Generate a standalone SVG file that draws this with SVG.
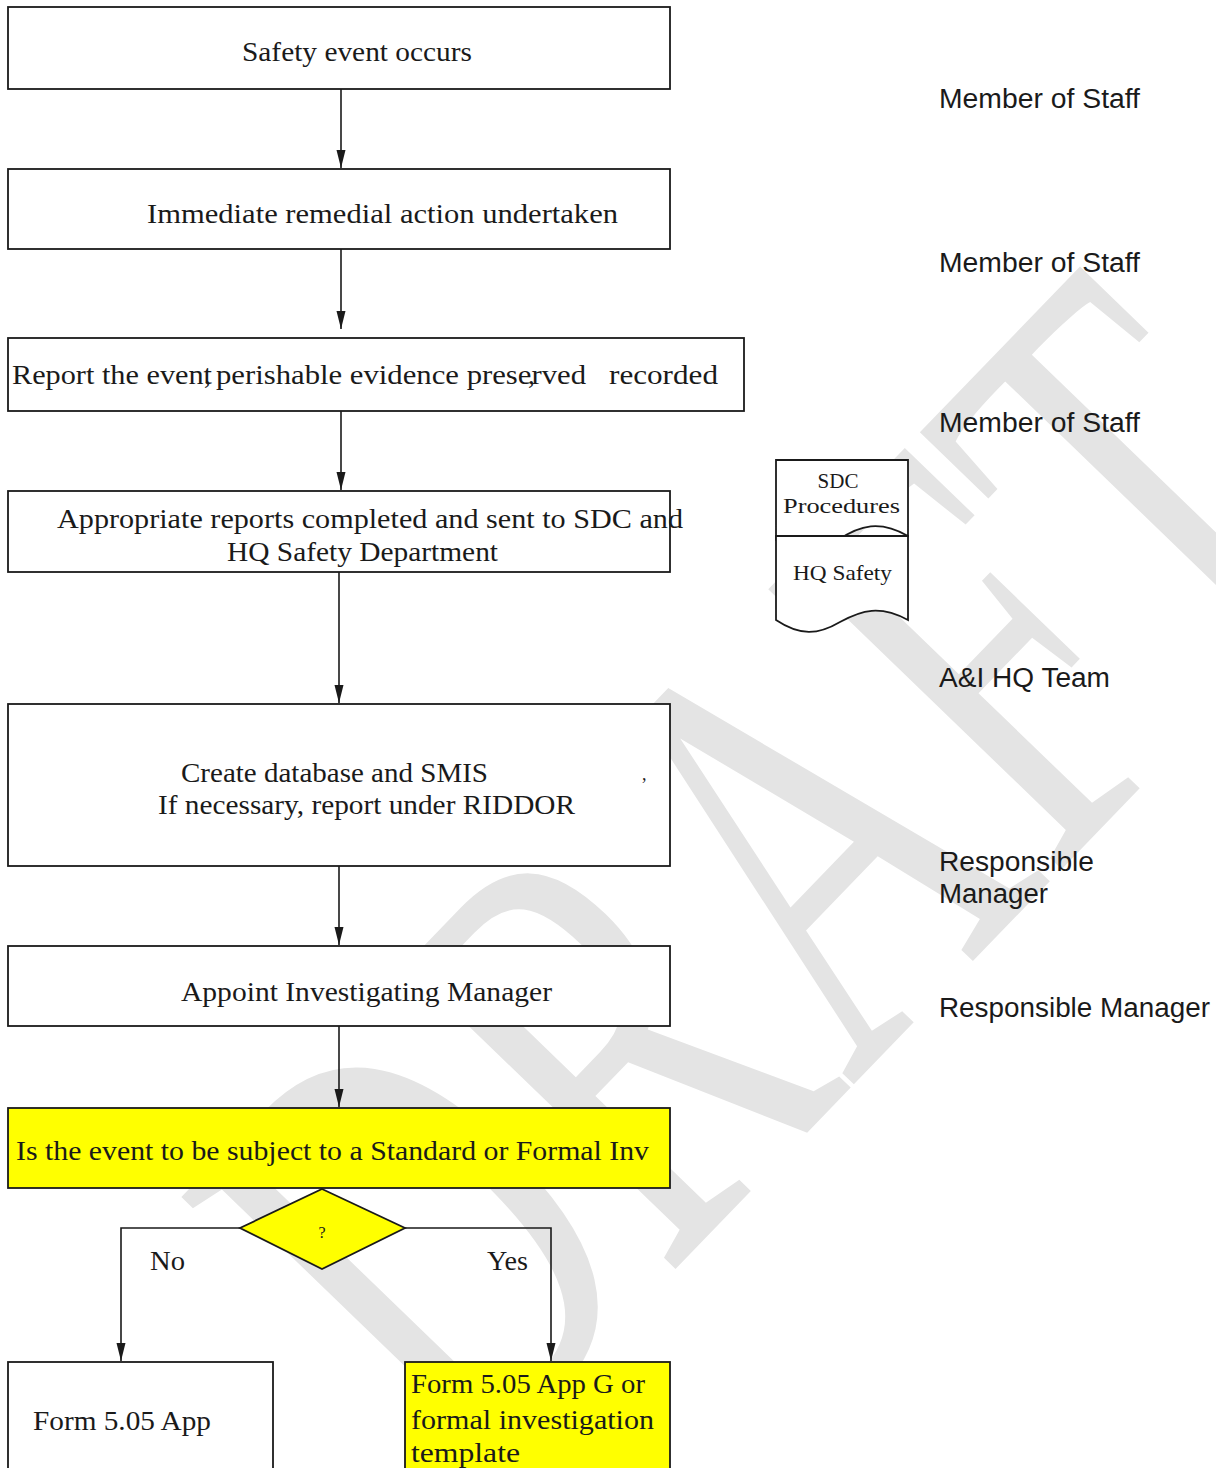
<svg xmlns="http://www.w3.org/2000/svg" width="1216" height="1468" viewBox="0 0 1216 1468">
<defs>
<style>
.box{fill:#fff;stroke:#1a1a1a;stroke-width:1.8}
.yel{fill:#ffff00;stroke:#1a1a1a;stroke-width:1.8}
.t{font-family:"Liberation Serif",serif;font-size:27px;fill:#1a1a1a}
.s{font-family:"Liberation Serif",serif;font-size:21px;fill:#1a1a1a}
.lab{font-family:"Liberation Sans",Arial,sans-serif;font-size:27px;fill:#1a1a1a}
.c{fill:none;stroke:#1a1a1a;stroke-width:1.6}
.wm{font-family:"Liberation Serif",serif;font-size:387px;fill:#e4e4e4}
</style>
<marker id="ah" viewBox="0 0 18 10" refX="18" refY="5" markerWidth="18" markerHeight="10" markerUnits="userSpaceOnUse" orient="auto">
<path d="M0,0.5 L18,5 L0,9.5 z" fill="#1a1a1a"/>
</marker>
</defs>
<rect width="1216" height="1468" fill="#fff"/>
<g id="watermark">
<text class="wm" x="0" y="0" transform="translate(465 1487) rotate(-46) scale(1.034 1.6)">DRAFT</text>
</g>
<g id="connectors">
<path class="c" d="M341,89 V168" marker-end="url(#ah)"/>
<path class="c" d="M341,249 V329" marker-end="url(#ah)"/>
<path class="c" d="M341,411 V490" marker-end="url(#ah)"/>
<path class="c" d="M339,572 V703" marker-end="url(#ah)"/>
<path class="c" d="M339,866 V945" marker-end="url(#ah)"/>
<path class="c" d="M339,1026 V1107" marker-end="url(#ah)"/>
<path class="c" d="M240,1228 H121 V1361" marker-end="url(#ah)"/>
<path class="c" d="M405,1228 H551 V1361" marker-end="url(#ah)"/>
<text class="t" x="150" y="1270" textLength="35" lengthAdjust="spacingAndGlyphs">No</text>
<text class="t" x="487" y="1270" textLength="41" lengthAdjust="spacingAndGlyphs">Yes</text>
</g>
<g id="n1">
<rect class="box" x="8" y="7" width="662" height="82"/>
<text class="t" x="242" y="61" textLength="230" lengthAdjust="spacingAndGlyphs">Safety event occurs</text>
</g>
<g id="n2">
<rect class="box" x="8" y="169" width="662" height="80"/>
<text class="t" x="147" y="223" textLength="471" lengthAdjust="spacingAndGlyphs">Immediate remedial action undertaken</text>
</g>
<g id="n3">
<rect class="box" x="8" y="338" width="736" height="73"/>
<text class="t" x="12" y="384" textLength="200" lengthAdjust="spacingAndGlyphs">Report the event</text>
<text class="t" x="204" y="384">,</text>
<text class="t" x="216" y="384" textLength="370" lengthAdjust="spacingAndGlyphs">perishable evidence preserved</text>
<text class="t" x="528" y="384">,</text>
<text class="t" x="609" y="384" textLength="109" lengthAdjust="spacingAndGlyphs">recorded</text>
</g>
<g id="n4">
<rect class="box" x="8" y="491" width="662" height="81"/>
<text class="t" x="57" y="528" textLength="626" lengthAdjust="spacingAndGlyphs">Appropriate reports completed and sent to  SDC and</text>
<text class="t" x="227" y="561" textLength="271" lengthAdjust="spacingAndGlyphs">HQ Safety Department</text>
</g>
<g id="n5">
<rect class="box" x="8" y="704" width="662" height="162"/>
<text class="t" x="181" y="782" textLength="307" lengthAdjust="spacingAndGlyphs">Create database and SMIS</text>
<text class="t" x="642" y="780" style="font-size:18px">,</text>
<text class="t" x="158" y="814" textLength="417" lengthAdjust="spacingAndGlyphs">If necessary, report under RIDDOR</text>
</g>
<g id="n6">
<rect class="box" x="8" y="946" width="662" height="80"/>
<text class="t" x="181" y="1001" textLength="371" lengthAdjust="spacingAndGlyphs">Appoint Investigating Manager</text>
</g>
<g id="n7">
<rect class="yel" x="8" y="1108" width="662" height="80"/>
<text class="t" x="16" y="1160" textLength="633" lengthAdjust="spacingAndGlyphs">Is the event to be subject to a Standard or Formal Inv</text>
</g>
<g id="n8">
<path class="yel" d="M322,1189 L405,1228 L322,1269 L240,1228 z"/>
<text class="s" x="322" y="1238" text-anchor="middle" style="font-size:16px">?</text>
</g>
<g id="n9">
<rect class="box" x="8" y="1362" width="265" height="120"/>
<text class="t" x="33" y="1430" textLength="178" lengthAdjust="spacingAndGlyphs">Form 5.05 App</text>
</g>
<g id="n10">
<rect class="yel" x="405" y="1362" width="265" height="120"/>
<text class="t" x="411" y="1393" textLength="234" lengthAdjust="spacingAndGlyphs">Form 5.05 App G or</text>
<text class="t" x="411" y="1429" textLength="243" lengthAdjust="spacingAndGlyphs">formal investigation</text>
<text class="t" x="411" y="1462" textLength="109" lengthAdjust="spacingAndGlyphs">template</text>
</g>
<g id="doc">
<path class="box" d="M776,460 H908 V536 C880,520 860,525 838,540 C815,555 795,550 776,540 z"/>
<path class="box" d="M776,536 H908 V620 C880,605 862,610 840,622 C818,635 800,636 776,620 z"/>
<text class="s" x="838" y="488" text-anchor="middle">SDC</text>
<text class="s" x="783" y="513" textLength="117" lengthAdjust="spacingAndGlyphs">Procedures</text>
<text class="s" x="793" y="580" textLength="99" lengthAdjust="spacingAndGlyphs">HQ Safety</text>
</g>
<g id="labels">
<text class="lab" x="939" y="108" textLength="201" lengthAdjust="spacingAndGlyphs">Member of Staff</text>
<text class="lab" x="939" y="272" textLength="201" lengthAdjust="spacingAndGlyphs">Member of Staff</text>
<text class="lab" x="939" y="432" textLength="201" lengthAdjust="spacingAndGlyphs">Member of Staff</text>
<text class="lab" x="939" y="687" textLength="171" lengthAdjust="spacingAndGlyphs">A&amp;I HQ Team</text>
<text class="lab" x="939" y="871" textLength="155" lengthAdjust="spacingAndGlyphs">Responsible</text>
<text class="lab" x="939" y="903" textLength="109" lengthAdjust="spacingAndGlyphs">Manager</text>
<text class="lab" x="939" y="1017" textLength="271" lengthAdjust="spacingAndGlyphs">Responsible Manager</text>
</g>
</svg>
